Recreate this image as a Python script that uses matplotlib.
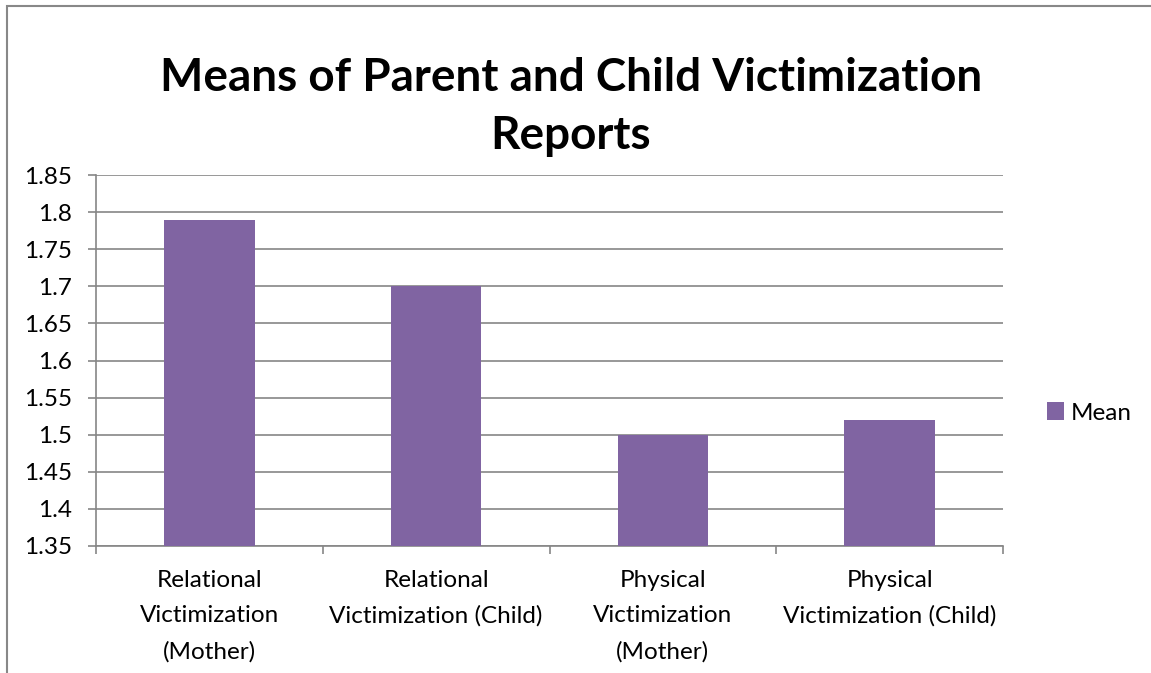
import matplotlib
matplotlib.use("Agg")
import matplotlib.pyplot as plt
from matplotlib.patches import Rectangle
import numpy as np

categories = [
    "Relational\nVictimization\n(Mother)",
    "Relational\nVictimization (Child)",
    "Physical\nVictimization\n(Mother)",
    "Physical\nVictimization (Child)",
]
means = [1.79, 1.70, 1.50, 1.52]
y_ticks = [1.35, 1.4, 1.45, 1.5, 1.55, 1.6, 1.65, 1.7, 1.75, 1.8, 1.85]
y_labels = ["1.35", "1.4", "1.45", "1.5", "1.55", "1.6", "1.65", "1.7", "1.75", "1.8", "1.85"]

BAR = "#8064A2"
GRID = "#868686"
W, H = 1151, 673

plt.rcParams["font.family"] = ["Lato", "DejaVu Sans"]

fig = plt.figure(figsize=(W / 100, H / 100), dpi=100)
ax = fig.add_axes([96 / W, 1 - 546 / H, (1003 - 96) / W, (546 - 175) / H])

x = np.arange(len(categories))
ax.bar(x, means, width=0.4, color=BAR, zorder=3, label="Mean")

ax.set_ylim(1.35, 1.85)
ax.set_xlim(-0.5, len(categories) - 0.5)
ax.set_yticks(y_ticks, y_labels, fontsize=17.5)
ax.yaxis.grid(True, color=GRID, lw=1.2, zorder=0)
ax.tick_params(axis="y", length=6, width=1.2, color=GRID, pad=11)

ax.set_xticks(x, categories, fontsize=17.5, linespacing=1.84, va="top")
ax.tick_params(axis="x", which="major", length=0, pad=17)
ax.set_xticks(np.arange(len(categories) + 1) - 0.5, minor=True)
ax.tick_params(axis="x", which="minor", length=6, width=1.2, color=GRID)

for side in ("top", "right"):
    ax.spines[side].set_visible(False)
for side in ("left", "bottom"):
    ax.spines[side].set_color(GRID)
    ax.spines[side].set_linewidth(1.2)

fig.text(571 / W, 1 - 107 / H, "Means of Parent and Child Victimization\nReports",
         ha="center", va="center", fontsize=33, fontweight="bold", linespacing=1.45)

fig.legend(loc="center left", bbox_to_anchor=(1025 / W, 1 - 413 / H), frameon=False,
           fontsize=17.5, handlelength=0.7, handleheight=0.7, handletextpad=0.3)

# outer chart border (only top and left edges visible in the crop)
fig.add_artist(Rectangle((7 / W, -0.1), 1.2, 1.1 - 6 / H, transform=fig.transFigure,
                         fill=False, edgecolor="#888888", lw=1.5))

fig.savefig("out.png", dpi=100)
